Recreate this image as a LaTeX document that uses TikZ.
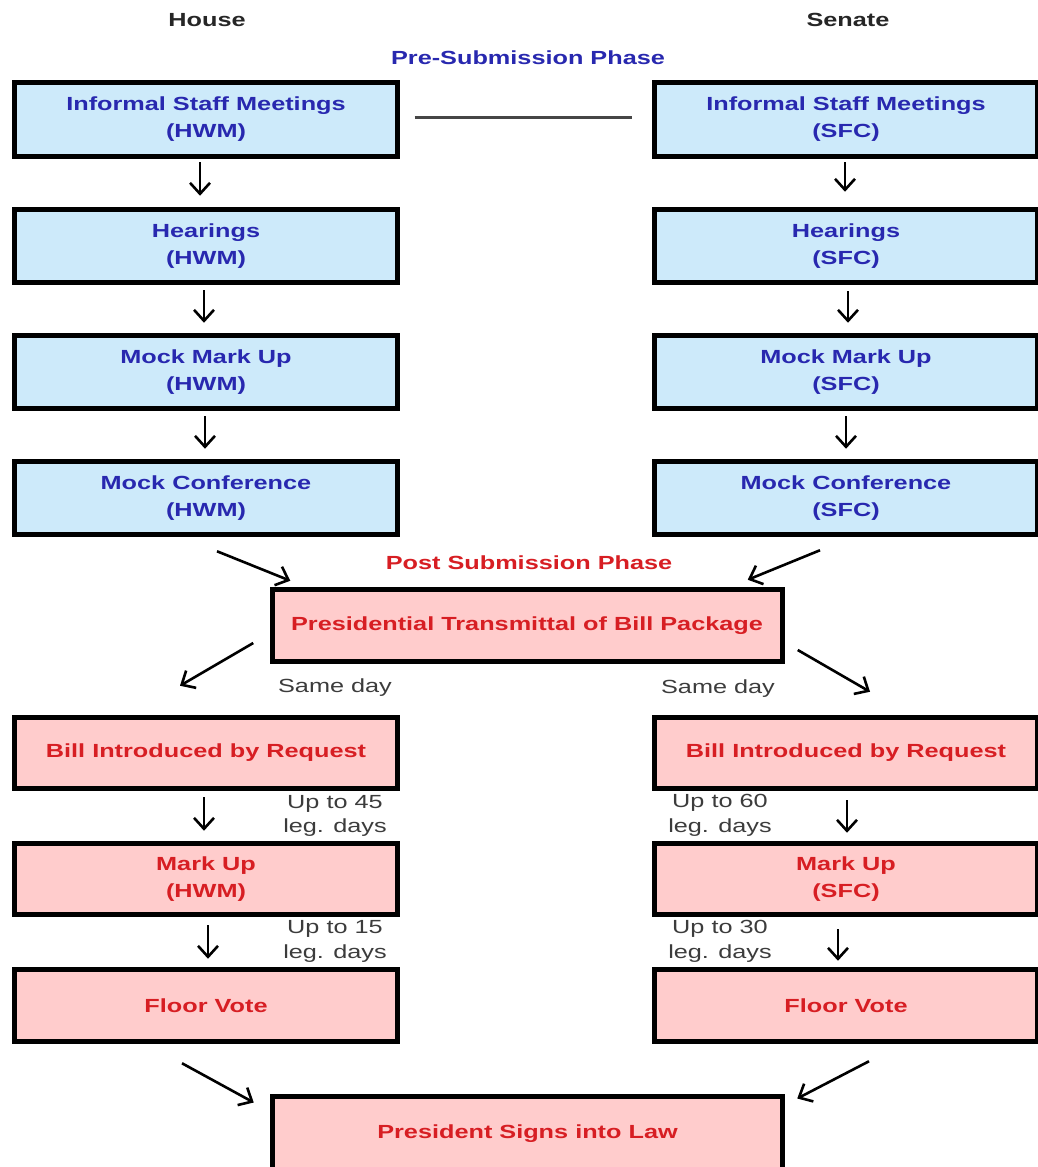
\documentclass[tikz,border=0pt]{standalone}
\usepackage{fontspec}
\setmainfont{Liberation Sans}[FakeStretch=1.33]
\usetikzlibrary{arrows.meta}
\definecolor{boxblue}{RGB}{205,234,250}
\definecolor{boxpink}{RGB}{255,204,204}
\definecolor{txtblue}{RGB}{40,40,175}
\definecolor{txtred}{RGB}{215,30,35}
\definecolor{txtgray}{RGB}{60,60,60}
\definecolor{linegray}{RGB}{70,70,70}
\tikzset{
 box/.style={draw=black, line width=5pt, minimum width=383pt, inner sep=0pt, align=center, font=\fontsize{19}{27}\selectfont\bfseries},
 prebox/.style={box, minimum height=73.5pt, fill=boxblue, text=txtblue},
 postbox/.style={box, minimum height=71.5pt, fill=boxpink, text=txtred},
 wide/.style={minimum width=510pt},
 arr/.style={line width=2.6pt, draw=black, -{Straight Barb[length=11pt,width=20pt]}},
 note/.style={font=\fontsize{19}{24.5}\selectfont, text=txtgray, align=center, inner sep=0pt},
 head/.style={font=\fontsize{19}{24}\selectfont\bfseries, inner sep=0pt},
}
\begin{document}
\begin{tikzpicture}[x=1pt,y=-1pt]
\useasboundingbox (0,0) rectangle (1038,1167);
\clip (0,0) rectangle (1038,1167);
\fill[white] (0,0) rectangle (1038,1167);

% headers
\node[head, text=black!85] (house) at (207,20) {House};
\node[head, text=black!85] (senate) at (848,20) {Senate};
\node[head, text=txtblue] (pre) at (528,58) {Pre-Submission Phase};
\node[head, text=txtred] (post) at (529,563) {Post Submission Phase};

% pre-submission boxes
\node[prebox] (b1l) at (206,119.5) {Informal Staff Meetings\\(HWM)};
\node[prebox] (b2l) at (206,246) {Hearings\\(HWM)};
\node[prebox] (b3l) at (206,372) {Mock Mark Up\\(HWM)};
\node[prebox] (b4l) at (206,498) {Mock Conference\\(HWM)};
\node[prebox] (b1r) at (846,119.5) {Informal Staff Meetings\\(SFC)};
\node[prebox] (b2r) at (846,246) {Hearings\\(SFC)};
\node[prebox] (b3r) at (846,372) {Mock Mark Up\\(SFC)};
\node[prebox] (b4r) at (846,498) {Mock Conference\\(SFC)};

% post-submission boxes
\node[postbox, wide] (pres) at (527,625.5) {Presidential Transmittal of Bill Package};
\node[postbox] (billl) at (206,753) {Bill Introduced by Request};
\node[postbox] (markl) at (206,879) {Mark Up\\(HWM)};
\node[postbox] (floorl) at (206,1005.5) {Floor Vote};
\node[postbox] (billr) at (846,753) {Bill Introduced by Request};
\node[postbox] (markr) at (846,879) {Mark Up\\(SFC)};
\node[postbox] (floorr) at (846,1005.5) {Floor Vote};
\node[postbox, wide, minimum height=76pt] (law) at (527.5,1134) {President Signs into Law};

% notes
\node[note] (sdl) at (335,688) {Same day};
\node[note] (sdr) at (718,689) {Same day};
\node[note] (n45) at (335,816) {Up to 45\\leg. days};
\node[note] (n60) at (720,815.5) {Up to 60\\leg. days};
\node[note] (n15) at (335,941.5) {Up to 15\\leg. days};
\node[note] (n30) at (720,941.5) {Up to 30\\leg. days};

% link between informal meetings
\draw[linegray, line width=3pt] ([xshift=14.5pt,yshift=2.5pt]b1l.east) -- ([xshift=-20.5pt,yshift=2.5pt]b1r.west);

% left column arrows
\draw[arr] ([xshift=-6pt,yshift=-3.5pt]b1l.south) -- ([xshift=-6pt,yshift=11pt]b2l.north);
\draw[arr] ([xshift=-2pt,yshift=-5pt]b2l.south) -- ([xshift=-2pt,yshift=10pt]b3l.north);
\draw[arr] ([xshift=-1pt,yshift=-5pt]b3l.south) -- ([xshift=-1pt,yshift=10pt]b4l.north);
% right column arrows
\draw[arr] ([xshift=-1pt,yshift=-3.5pt]b1r.south) -- ([xshift=-1pt,yshift=15pt]b2r.north);
\draw[arr] ([xshift=2pt,yshift=-6pt]b2r.south) -- ([xshift=2pt,yshift=10pt]b3r.north);
\draw[arr] ([xshift=0pt,yshift=-5pt]b3r.south) -- ([xshift=0pt,yshift=10pt]b4r.north);

% into presidential transmittal
\draw[arr] ([xshift=11pt,yshift=-14pt]b4l.south) -- ([xshift=20.75pt,yshift=6.5pt]pres.north west);
\draw[arr] ([xshift=-26pt,yshift=-13pt]b4r.south) -- ([xshift=-36.75pt,yshift=7.5pt]pres.north east);
% out of presidential transmittal
\draw[arr] ([xshift=-16.25pt,yshift=-17.5pt]pres.west) -- ([xshift=-26pt,yshift=29pt]billl.north);
\draw[arr] ([xshift=13.25pt,yshift=-24.5pt]pres.east) -- ([xshift=24pt,yshift=23pt]billr.north);

% lower columns
\draw[arr] ([xshift=-2pt,yshift=-6pt]billl.south) -- ([xshift=-2pt,yshift=10pt]markl.north);
\draw[arr] ([xshift=2pt,yshift=-8pt]markl.south) -- ([xshift=2pt,yshift=8.5pt]floorl.north);
\draw[arr] ([xshift=1pt,yshift=-9pt]billr.south) -- ([xshift=1pt,yshift=8pt]markr.north);
\draw[arr] ([xshift=-8pt,yshift=-12pt]markr.south) -- ([xshift=-8pt,yshift=6.5pt]floorr.north);

% into final box
\draw[arr] ([xshift=-24pt,yshift=-19.5pt]floorl.south) -- ([xshift=-16.25pt,yshift=-9pt]law.north west);
\draw[arr] ([xshift=23pt,yshift=-17.5pt]floorr.south) -- ([xshift=12.25pt,yshift=-5pt]law.north east);
\end{tikzpicture}
\end{document}
